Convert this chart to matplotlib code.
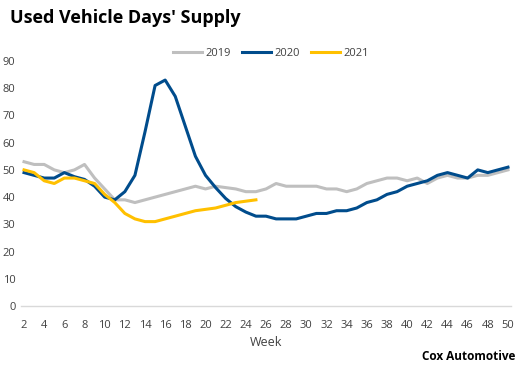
import numpy as np
import matplotlib
matplotlib.use('Agg')
import matplotlib.pyplot as plt

# Weekly used vehicle days' supply
weeks = list(range(2, 51))
supply_2019 = [53, 52, 52, 50, 49, 50, 52, 47, 43, 39, 39, 38, 39, 40, 41, 42, 43, 44, 43,
               44, 43.5, 43, 42, 42, 43, 45, 44, 44, 44, 44, 43, 43, 42, 43, 45, 46, 47, 47,
               46, 47, 45, 47, 48, 47, 47, 48, 48, 49, 50]
supply_2020 = [49, 48, 47, 47, 49, 47.5, 46.5, 44, 40, 39, 42, 48, 64, 81, 83, 77, 66, 55, 48,
               43.5, 39.5, 36.5, 34.5, 33, 33, 32, 32, 32, 33, 34, 34, 35, 35, 36, 38, 39, 41,
               42, 44, 45, 46, 48, 49, 48, 47, 50, 49, 50, 51]
weeks_2021 = list(range(2, 26))
supply_2021 = [50, 49, 46, 45, 47, 47, 46, 45, 41, 38, 34, 32, 31, 31, 32, 33, 34, 35, 35.5,
               36, 37, 38, 38.5, 39]

plt.rcParams['font.family'] = ['Open Sans', 'DejaVu Sans']

fig = plt.figure(figsize=(5.18, 3.72), dpi=100)
ax = fig.add_axes([21 / 518, (372 - 306) / 372, 490 / 518, 245 / 372])

ax.plot(weeks, supply_2019, color='#BFBFBF', lw=2.2, label='2019')
ax.plot(weeks, supply_2020, color='#004C8C', lw=2.2, label='2020')
ax.plot(weeks_2021, supply_2021, color='#FFC000', lw=2.2, label='2021')

ax.set_xlim(1.7, 50.3)
ax.set_ylim(0, 90)
ax.set_yticks(range(0, 91, 10))
ax.set_xticks(range(2, 51, 2))
ax.tick_params(axis='both', length=0, labelsize=8, colors='#404040')
ax.tick_params(axis='x', pad=10)
ax.tick_params(axis='y', pad=4)

for side in ['top', 'right', 'left']:
    ax.spines[side].set_visible(False)
ax.spines['bottom'].set_color('#D9D9D9')
ax.spines['bottom'].set_linewidth(1)

ax.set_xlabel('Week', fontsize=9, color='#404040', labelpad=4)

ax.legend(loc='center', bbox_to_anchor=(0.51, 1 + 8 / 245), ncol=3, frameon=False,
          fontsize=8, handlelength=2.6, handletextpad=0.3, columnspacing=1.0,
          labelcolor='#404040')

fig.text(10 / 518, 1 - 18 / 372, "Used Vehicle Days' Supply", fontsize=13, fontweight='bold',
         va='center', ha='left', color='black')
fig.text(515 / 518, 1 - 356 / 372, 'Cox Automotive', fontsize=8.5, fontweight='bold',
         va='center', ha='right', color='black')

plt.savefig('out.png', dpi=100)
